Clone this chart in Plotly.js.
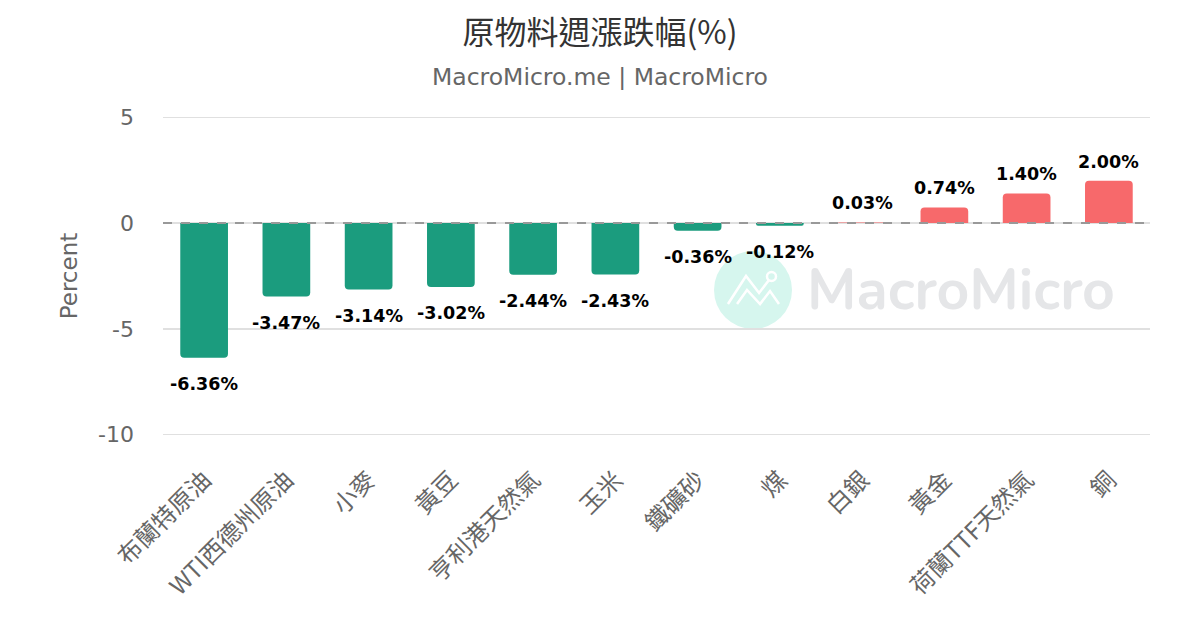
<!DOCTYPE html>
<html>
<head>
<meta charset="utf-8">
<script src="https://cdn.plot.ly/plotly-3.0.1.min.js"></script>
<style>html,body{margin:0;padding:0;background:#fff;}#chart{width:1200px;height:630px;}</style>
</head>
<body>
<div id="chart"></div>
<script>
const categories = ["布蘭特原油","WTI西德州原油","小麥","黃豆","亨利港天然氣","玉米","鐵礦砂","煤","白銀","黃金","荷蘭TTF天然氣","銅"];
const changes = [-6.36, -3.47, -3.14, -3.02, -2.44, -2.43, -0.36, -0.12, 0.03, 0.74, 1.40, 2.00];
const yTicks = [5, 0, -5, -10];

const GREEN = "#1b9c7e", RED = "#f7696b";
const FONT = "'Noto Sans CJK TC', 'DejaVu Sans', sans-serif";
const L = 163, R = 50, T = 116, B = 194, W = 1200, H = 630;
const pw = W - L - R, ph = H - T - B;
const px = x => (x - L) / pw;
const py = y => (H - B - y) / ph;

const trace = {
  type: "bar",
  x: categories,
  y: changes,
  marker: { color: changes.map(v => v < 0 ? GREEN : RED), cornerradius: 4 },
  hoverinfo: "x+y"
};

const labels = categories.map((c, i) => ({
  x: c, y: changes[i], xref: "x", yref: "y",
  text: "<b>" + changes[i].toFixed(2) + "%</b>",
  showarrow: false,
  yshift: changes[i] < 0 ? -26 : 19,
  font: { family: "'DejaVu Sans', sans-serif", size: 17.5, color: "#000" }
}));

function iconPath(pts) {
  return pts.map((p, i) => (i ? "L" : "M") + px(p[0]).toFixed(4) + "," + py(p[1]).toFixed(4)).join(" ");
}

const layout = {
  width: W, height: H,
  margin: { l: L, r: R, t: T, b: B },
  paper_bgcolor: "#fff", plot_bgcolor: "#fff",
  bargap: 0.42,
  showlegend: false,
  font: { family: FONT, color: "#666" },
  title: { text: "原物料週漲跌幅(%)", x: 0.5, xref: "container", xanchor: "center",
           yref: "container", y: 1 - 33 / H, yanchor: "middle",
           font: { family: FONT, size: 32, color: "#333" } },
  xaxis: {
    type: "category",
    tickangle: -45,
    tickfont: { family: FONT, size: 24, color: "#666" },
    showgrid: false, zeroline: false, showline: false, ticks: "",
    ticklabelstandoff: 24
  },
  yaxis: {
    range: [-10.06, 5.06],
    tickvals: yTicks,
    ticktext: yTicks.map(String),
    tickfont: { family: "'DejaVu Sans', sans-serif", size: 22, color: "#666" },
    gridcolor: "#e0e0e0", gridwidth: 1.5,
    zeroline: false, showline: false,
    ticks: "", ticklabelstandoff: 28,
    title: { text: "Percent", font: { family: "'DejaVu Sans', sans-serif", size: 23, color: "#666" }, standoff: 14 }
  },
  shapes: [
    { type: "line", xref: "paper", yref: "y", x0: 0, x1: 1, y0: 0, y1: 0,
      line: { color: "#999", width: 2, dash: "dash" }, layer: "above" },
    { type: "circle", xref: "paper", yref: "paper", layer: "below",
      x0: px(714), x1: px(792), y0: py(329), y1: py(251),
      fillcolor: "#d6f6ee", line: { width: 0 } },
    { type: "path", xref: "paper", yref: "paper", layer: "below",
      path: iconPath([[728, 304], [746, 276], [759, 293], [769, 280]]),
      line: { color: "#ffffff", width: 2.5 } },
    { type: "path", xref: "paper", yref: "paper", layer: "below",
      path: iconPath([[737, 304], [747, 290], [760, 304], [770, 291], [779, 304]]),
      line: { color: "#ffffff", width: 2.5 } },
    { type: "circle", xref: "paper", yref: "paper", layer: "below",
      x0: px(767), x1: px(776), y0: py(281), y1: py(272),
      fillcolor: "rgba(0,0,0,0)", line: { color: "#ffffff", width: 2.5 } }
  ],
  annotations: labels.concat([
    { xref: "paper", yref: "paper", x: px(600), y: py(77), xanchor: "center", yanchor: "middle",
      text: "MacroMicro.me | MacroMicro", showarrow: false,
      font: { family: "'DejaVu Sans', sans-serif", size: 23.5, color: "#666" } },
    { xref: "paper", yref: "paper", x: px(805), y: py(290), xanchor: "left", yanchor: "middle",
      text: "<b>MacroMicro</b>", showarrow: false,
      font: { family: "'Nunito', 'Lato', 'DejaVu Sans', sans-serif", size: 57, color: "#e5e6e8" } }
  ])
};

Plotly.newPlot("chart", [trace], layout, { displayModeBar: false, staticPlot: true });
</script>
</body>
</html>
